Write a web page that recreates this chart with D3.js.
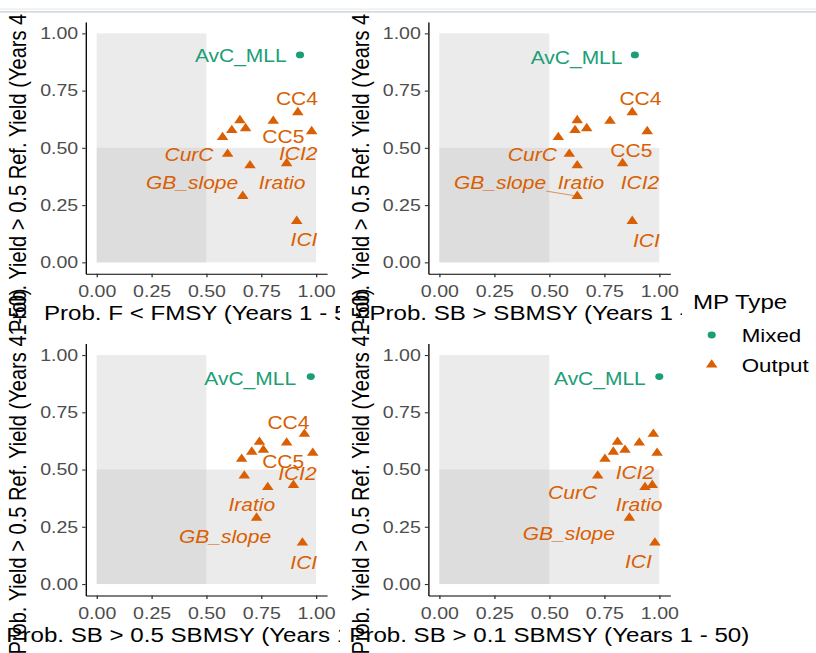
<!DOCTYPE html>
<html>
<head>
<meta charset="utf-8">
<script src="https://cdn.jsdelivr.net/npm/d3@7"></script>
<style>
  body { margin: 0; background: #fff; }
  svg text { font-family: "Liberation Sans", Arial, sans-serif; }
</style>
</head>
<body>
<svg width="816" height="653"></svg>
<script>
// management procedures, one entry per MP
const mpNames = ["AvC_MLL", "CC4", "CC1", "CC2", "CC3", "AvC", "CC5", "DCAC", "CurC", "ICI2", "Iratio", "GB_slope", "ICI"];
const mpType = ["Mixed", "Output", "Output", "Output", "Output", "Output", "Output", "Output", "Output", "Output", "Output", "Output", "Output"];
const mpItalic = [false, false, false, false, false, false, false, false, true, true, true, true, true];

// y: Prob. Yield > 0.5 Ref. Yield (Years 41-50)
const probYield = [0.906, 0.655, 0.617, 0.62, 0.585, 0.577, 0.572, 0.546, 0.473, 0.432, 0.423, 0.289, 0.18];
// x values, one array per panel
const probFmsy = [0.927, 0.917, 0.805, 0.653, 0.679, 0.616, 0.98, 0.574, 0.597, 0.866, 0.699, 0.666, 0.912];
const probSbmsy = [0.889, 0.877, 0.776, 0.627, 0.67, 0.617, 0.945, 0.541, 0.591, 0.833, 0.627, 0.627, 0.877];
const probSb05 = [0.976, 0.947, 0.866, 0.742, 0.76, 0.707, 0.985, 0.661, 0.673, 0.897, 0.78, 0.729, 0.938];
const probSb01 = [1.0, 0.973, 0.909, 0.81, 0.844, 0.791, 0.99, 0.753, 0.72, 0.968, 0.935, 0.864, 0.98];

const xTitles = [
  "Prob. F < FMSY (Years 1 - 50)",
  "Prob. SB > SBMSY (Years 1 - 50)",
  "Prob. SB > 0.5 SBMSY (Years 1 - 50)",
  "Prob. SB > 0.1 SBMSY (Years 1 - 50)"
];
const yTitle = "Prob. Yield > 0.5 Ref. Yield (Years 41-50)";
const tickValues = [0, 0.25, 0.5, 0.75, 1];

// repelled label placements (data units) as they came out in each panel
const labels1 = [["AvC_MLL", 0.657, 0.9], ["CC4", 0.913, 0.713], ["CC5", 0.851, 0.549], ["ICI2", 0.919, 0.473],
  ["CurC", 0.421, 0.469], ["GB_slope", 0.435, 0.348], ["Iratio", 0.845, 0.348], ["ICI", 0.945, 0.1]];
const labels2 = [["AvC_MLL", 0.624, 0.895], ["CC4", 0.914, 0.712], ["CC5", 0.873, 0.488], ["ICI2", 0.912, 0.345],
  ["CurC", 0.423, 0.469], ["GB_slope", 0.276, 0.345, true], ["Iratio", 0.644, 0.345], ["ICI", 0.941, 0.095]];
const labels3 = [["AvC_MLL", 0.7, 0.898], ["CC4", 0.874, 0.705], ["CC5", 0.85, 0.534], ["ICI2", 0.915, 0.48],
  ["Iratio", 0.707, 0.345], ["GB_slope", 0.585, 0.207], ["ICI", 0.944, 0.093]];
const labels4 = [["AvC_MLL", 0.73, 0.898], ["ICI2", 0.889, 0.486], ["CurC", 0.606, 0.396],
  ["Iratio", 0.908, 0.345], ["GB_slope", 0.589, 0.218], ["ICI", 0.905, 0.095]];

const typeNames = ["Mixed", "Output"];
const typeColors = ["#1B9E77", "#D95F02"];

// the reference picture is stretched sideways, so draw in a squeezed space
const SX = 1.2;
const L = (px) => px / SX;

const color = d3.scaleOrdinal().domain(typeNames).range(typeColors);
const shape = d3.scaleOrdinal().domain(typeNames).range([d3.symbolCircle, d3.symbolTriangle]);
const shapeSize = d3.scaleOrdinal().domain(typeNames).range([36, 40]);

const panels = [
  { box: [0, 0, 340, 330], area: [85.7, 327, 21.9, 273.8], xs: probFmsy, labels: labels1, title: xTitles[0] },
  { box: [340, 0, 340, 330], area: [428.3, 670.3, 21.9, 273.8], xs: probSbmsy, labels: labels2, title: xTitles[1] },
  { box: [0, 330, 340, 323], area: [85.7, 327, 343.6, 595.5], xs: probSb05, labels: labels3, title: xTitles[2] },
  { box: [340, 330, 340, 323], area: [428.3, 670.3, 343.6, 595.5], xs: probSb01, labels: labels4, title: xTitles[3] }
];

const svg = d3.select("svg");
svg.append("defs").append("clipPath").attr("id", "page")
  .append("rect").attr("x", 0).attr("y", 12).attr("width", 816).attr("height", 641);
const root = svg.append("g").attr("clip-path", "url(#page)")
  .append("g").attr("transform", `scale(${SX},1)`);

const tickFont = 16.3, titleFont = 20.1, labelFont = 17.5;

panels.forEach((p) => {
  const g = root.append("g");
  g.append("rect")
    .attr("x", L(p.box[0])).attr("y", p.box[1])
    .attr("width", L(p.box[2])).attr("height", p.box[3])
    .attr("fill", "#fff");

  const x = d3.scaleLinear().domain([-0.05, 1.05]).range([L(p.area[0]), L(p.area[1])]);
  const y = d3.scaleLinear().domain([-0.05, 1.05]).range([p.area[3], p.area[2]]);

  // shaded quadrants
  g.append("rect")
    .attr("x", x(0)).attr("y", y(1))
    .attr("width", x(0.5) - x(0)).attr("height", y(0) - y(1))
    .attr("fill", "#bebebe").attr("fill-opacity", 0.3);
  g.append("rect")
    .attr("x", x(0)).attr("y", y(0.5))
    .attr("width", x(1) - x(0)).attr("height", y(0) - y(0.5))
    .attr("fill", "#bebebe").attr("fill-opacity", 0.3);

  const xAxis = g.append("g")
    .attr("transform", `translate(0,${p.area[3]})`)
    .call(d3.axisBottom(x).tickValues(tickValues).tickFormat(d3.format(".2f"))
      .tickSize(3.5).tickSizeOuter(0).tickPadding(8.5));
  const yAxis = g.append("g")
    .attr("transform", `translate(${x(-0.05)},0)`)
    .call(d3.axisLeft(y).tickValues(tickValues).tickFormat(d3.format(".2f"))
      .tickSize(2.9).tickSizeOuter(0).tickPadding(3.3));
  [xAxis, yAxis].forEach((a) => {
    a.attr("font-size", tickFont).attr("font-family", null);
    a.select(".domain").attr("stroke", "#000").attr("stroke-width", 1.1);
    a.selectAll(".tick line").attr("stroke", "#333").attr("stroke-width", 1.1);
    a.selectAll(".tick text").attr("fill", "#4d4d4d");
  });

  // axis titles
  g.append("text")
    .attr("x", (x(-0.05) + x(1.05)) / 2)
    .attr("y", p.area[3] + 39.2)
    .attr("dy", "0.35em")
    .attr("text-anchor", "middle")
    .attr("font-size", titleFont)
    .attr("fill", "#000")
    .text(p.title);
  const ty = (y(-0.05) + y(1.05)) / 2 + 2;
  const tx = L(p.area[0] - 68);
  g.append("text")
    .attr("transform", `translate(${tx},${ty}) rotate(-90)`)
    .attr("dy", "0.35em")
    .attr("text-anchor", "middle")
    .attr("font-size", titleFont)
    .attr("fill", "#000")
    .text(yTitle);

  // points
  const pts = mpNames.map((name, i) => ({ name, type: mpType[i], x: p.xs[i], y: probYield[i], italic: mpItalic[i] }));
  g.append("g").selectAll("path")
    .data(pts)
    .join("path")
    .attr("transform", (d) => `translate(${x(d.x)},${y(d.y)})`)
    .attr("d", (d) => d3.symbol().type(shape(d.type)).size(shapeSize(d.type))())
    .attr("fill", (d) => color(d.type));

  // labels
  const lab = g.append("g");
  p.labels.forEach(([name, lx, ly, seg]) => {
    const i = mpNames.indexOf(name);
    const t = lab.append("text")
      .attr("x", x(lx)).attr("y", y(ly))
      .attr("dy", "0.35em")
      .attr("text-anchor", "middle")
      .attr("font-size", labelFont)
      .attr("font-style", mpItalic[i] ? "italic" : "normal")
      .attr("fill", color(mpType[i]))
      .text(name);
    if (seg) {
      const bb = t.node().getBBox();
      const cx = bb.x + bb.width / 2, cy = bb.y + bb.height / 2;
      const px = x(p.xs[i]), py = y(probYield[i]);
      const dx = px - cx, dy = py - cy;
      const s = Math.min(bb.width / 2 / Math.abs(dx), bb.height / 2 / Math.abs(dy));
      const len = Math.hypot(dx, dy);
      lab.append("line")
        .attr("x1", cx + dx * s).attr("y1", cy + dy * s)
        .attr("x2", px - dx / len * 3).attr("y2", py - dy / len * 3)
        .attr("stroke", color(mpType[i])).attr("stroke-width", 0.6);
    }
  });
});

// legend
const lg = root.append("g");
lg.append("rect").attr("x", L(682)).attr("y", 283).attr("width", L(134)).attr("height", 102).attr("fill", "#fff");
lg.append("text")
  .attr("x", L(693)).attr("y", 301.7).attr("dy", "0.35em")
  .attr("font-size", titleFont).attr("fill", "#000")
  .text("MP Type");
typeNames.forEach((t, i) => {
  const cy = 335 + i * 29.8;
  lg.append("path")
    .attr("transform", `translate(${L(711.7)},${cy})`)
    .attr("d", d3.symbol().type(shape(t)).size(shapeSize(t))())
    .attr("fill", color(t));
  lg.append("text")
    .attr("x", L(741.7)).attr("y", cy + 0.5).attr("dy", "0.35em")
    .attr("font-size", 18.6).attr("fill", "#000")
    .text(t);
});

// thin bar along the top edge of the picture
svg.append("rect").attr("x", 0).attr("y", 8.3).attr("width", 816).attr("height", 1.7).attr("fill", "#eef1f3");
svg.append("rect").attr("x", 0).attr("y", 11).attr("width", 816).attr("height", 1.7).attr("fill", "#d6dadd");
</script>
</body>
</html>
